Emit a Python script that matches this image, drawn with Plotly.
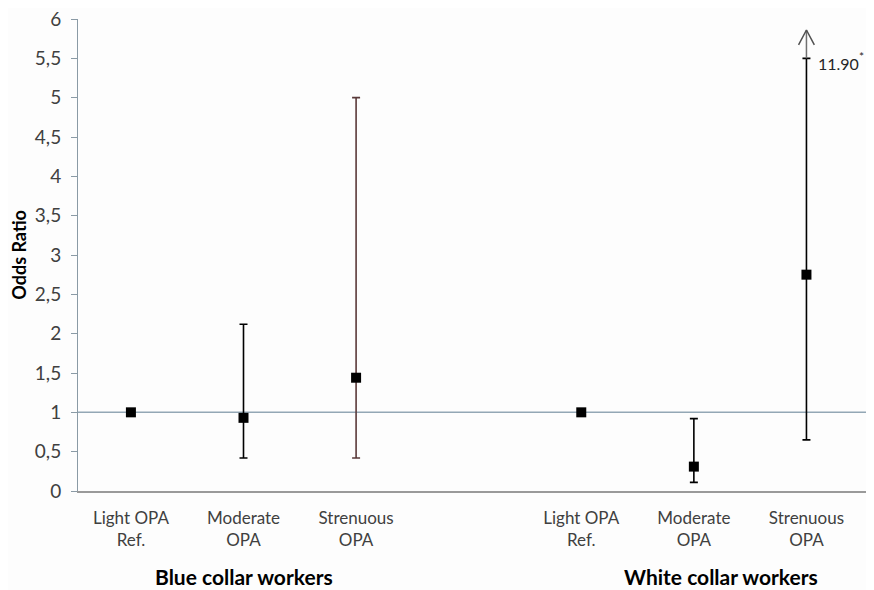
import plotly.graph_objects as go

# Data
categories = ["Light OPA<br>Ref.", "Moderate<br>OPA", "Strenuous<br>OPA",
              "Light OPA<br>Ref.", "Moderate<br>OPA", "Strenuous<br>OPA"]
positions = [0, 1, 2, 4, 5, 6]
odds_ratio = [1.0, 0.93, 1.44, 1.0, 0.31, 2.75]
ci_lower = [1.0, 0.42, 0.42, 1.0, 0.11, 0.65]
ci_upper = [1.0, 2.12, 5.0, 1.0, 0.92, 5.5]
bar_colors = ["#000000", "#000000", "#5a3a3a", "#000000", "#000000", "#000000"]
groups = ["Blue collar workers", "White collar workers"]
group_pos = [1.0, 5.24]
y_ticks = [0, 0.5, 1, 1.5, 2, 2.5, 3, 3.5, 4, 4.5, 5, 5.5, 6]
y_ticktext = ["0", "0,5", "1", "1,5", "2", "2,5", "3", "3,5", "4", "4,5", "5", "5,5", "6"]
arrow_top = 5.86
truncated_value = "11.90"
truncated_mark = "*"

FONT = "Lato"

fig = go.Figure()

for x, y, lo, hi, c in zip(positions, odds_ratio, ci_lower, ci_upper, bar_colors):
    has_err = hi > lo
    fig.add_trace(go.Scatter(
        x=[x], y=[y], mode="markers",
        marker=dict(symbol="square", size=10, color="#000000"),
        error_y=dict(type="data", symmetric=False,
                     array=[hi - y], arrayminus=[y - lo],
                     color=c, thickness=1.6, width=4, visible=has_err),
        showlegend=False, hoverinfo="skip",
    ))

# Arrow for truncated upper CI (last point)
xa = positions[-1]
ya = ci_upper[-1]
fig.add_trace(go.Scatter(
    x=[xa, xa], y=[ya, arrow_top], mode="lines",
    line=dict(color="#707070", width=1.5), showlegend=False, hoverinfo="skip"))
fig.add_trace(go.Scatter(
    x=[xa - 0.07, xa, xa + 0.07], y=[arrow_top - 0.19, arrow_top, arrow_top - 0.19],
    mode="lines", line=dict(color="#505050", width=1.5),
    showlegend=False, hoverinfo="skip"))

fig.add_annotation(x=xa + 0.09, y=ya - 0.06, xref="x", yref="y",
                   text=truncated_value, showarrow=False, xanchor="left",
                   borderpad=0,
                   font=dict(family=FONT, size=16, color="#262626"))
fig.add_annotation(x=xa + 0.09, y=ya - 0.06, xref="x", yref="y",
                   text=truncated_mark, showarrow=False, xanchor="left",
                   xshift=41, yshift=7, borderpad=0,
                   font=dict(family=FONT, size=12, color="#262626"))

# Reference line at OR = 1
fig.add_shape(type="line", xref="paper", yref="y", x0=0, x1=1, y0=1, y1=1,
              line=dict(color="#93a7b5", width=1.5), layer="below")

# Group labels
for g, gx in zip(groups, group_pos):
    fig.add_annotation(x=gx, y=-0.181, xref="x", yref="paper", text="<b>%s</b>" % g,
                       showarrow=False, yanchor="middle", xanchor="center",
                       font=dict(family=FONT, size=21, color="#000000"))

# Y axis title
fig.add_annotation(x=-0.0745, y=0.5, xref="paper", yref="paper",
                   text="<b>Odds Ratio</b>", textangle=-90, showarrow=False,
                   xanchor="center", yanchor="middle",
                   font=dict(family=FONT, size=18, color="#000000"))

fig.update_layout(
    width=866, height=582,
    margin=dict(l=70, r=0, t=11, b=99),
    paper_bgcolor="#fdfdfd", plot_bgcolor="#fdfdfd",
    showlegend=False,
)
fig.update_xaxes(
    range=[-0.47, 6.6], tickvals=positions, ticktext=categories,
    showgrid=False, zeroline=False, showline=True, linecolor="#9a9a9a", linewidth=1.5,
    ticks="", ticklabelstandoff=11,
    tickfont=dict(family=FONT, size=17, color="#404040"),
)
fig.update_yaxes(
    range=[0, 6], tickvals=y_ticks, ticktext=y_ticktext,
    showgrid=False, zeroline=False, showline=True, linecolor="#8a9aa5", linewidth=1,
    ticks="outside", ticklen=6, tickcolor="#8a9aa5", ticklabelstandoff=6,
    ticklabeloverflow="allow",
    tickfont=dict(family=FONT, size=19, color="#404040"),
)

fig.write_html("out.html")
